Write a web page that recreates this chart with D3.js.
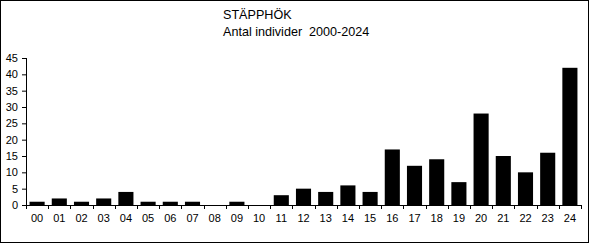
<!DOCTYPE html>
<html>
<head>
<meta charset="utf-8">
<script src="https://cdn.jsdelivr.net/npm/d3@7"></script>
<style>
  body { margin: 0; background: #fff; }
  text { font-family: Arial, "Liberation Sans", sans-serif; fill: #000; }
</style>
</head>
<body>
<svg id="chartSvg"></svg>
<script>
let years = ['00','01','02','03','04','05','06','07','08','09','10','11','12',
             '13','14','15','16','17','18','19','20','21','22','23','24']
let counts = [1,2,1,2,4,1,1,1,0,1,0,3,5,4,6,4,17,12,14,7,28,15,10,16,42]
let yTicks = [0,5,10,15,20,25,30,35,40,45]
let titleLines = ['STÄPPHÖK', 'Antal individer  2000-2024']

let width = 590
let height = 244

let margin = { top: 58, right: 9, bottom: 39, left: 26 }
let chartWidth = width - margin.left - margin.right
let chartHeight = height - margin.top - margin.bottom

const svg = d3.select('#chartSvg')
    .attr('width', width)
    .attr('height', height)

// outer frame
svg.append('rect')
    .attr('x', 0.5).attr('y', 0.5)
    .attr('width', 588).attr('height', 242)
    .attr('fill', '#fff').attr('stroke', '#000')

svg.selectAll('.title').data(titleLines)
    .enter()
    .append('text')
    .attr('x', 223)
    .attr('y', (d, i) => 19 + i * 17)
    .attr('font-size', '12.6px')
    .style('white-space', 'pre')
    .text(d => d)

const g = svg.append('g')
    .attr('transform', `translate(${margin.left},${margin.top})`)

xScale = d3.scaleBand().domain(years).range([0, chartWidth]).paddingInner(0.32).paddingOuter(0.16)
yScale = d3.scaleLinear().domain([0, 45]).range([chartHeight, 0])

g.selectAll('.bar').data(counts)
    .enter()
    .append('rect')
    .attr('x', (d, i) => xScale(years[i]))
    .attr('y', d => yScale(d))
    .attr('width', xScale.bandwidth())
    .attr('height', d => chartHeight - yScale(d))
    .attr('fill', '#000')

// y axis
let yAxis = d3.axisLeft(yScale).tickValues(yTicks).tickSize(4).tickPadding(4)
let ya = g.append('g').attr('class', 'y-axis').call(yAxis)
ya.select('.domain').attr('d', `M0.5,${yScale(45)}V${chartHeight}`)
ya.selectAll('.tick line').attr('stroke', '#000')
ya.selectAll('text').attr('font-size', '11px').attr('font-family', 'Arial, "Liberation Sans", sans-serif')

// x axis: ticks at category boundaries
let xa = g.append('g').attr('transform', `translate(0, ${chartHeight})`)
xa.append('line')
    .attr('x1', 0).attr('x2', chartWidth)
    .attr('y1', 0.5).attr('y2', 0.5)
    .attr('stroke', '#000')
let step = xScale.step()
let bounds = d3.range(years.length + 1).map(i => xScale(years[0]) - xScale.paddingOuter() * step + i * step)
xa.selectAll('.xtick').data(bounds)
    .enter()
    .append('line')
    .attr('x1', d => Math.round(d) + 0.5).attr('x2', d => Math.round(d) + 0.5)
    .attr('y1', 0).attr('y2', 4)
    .attr('stroke', '#000')
xa.selectAll('.xlabel').data(years)
    .enter()
    .append('text')
    .attr('x', d => xScale(d) + xScale.bandwidth() / 2)
    .attr('y', 17)
    .attr('text-anchor', 'middle')
    .attr('font-size', '11px')
    .text(d => d)
</script>
</body>
</html>
